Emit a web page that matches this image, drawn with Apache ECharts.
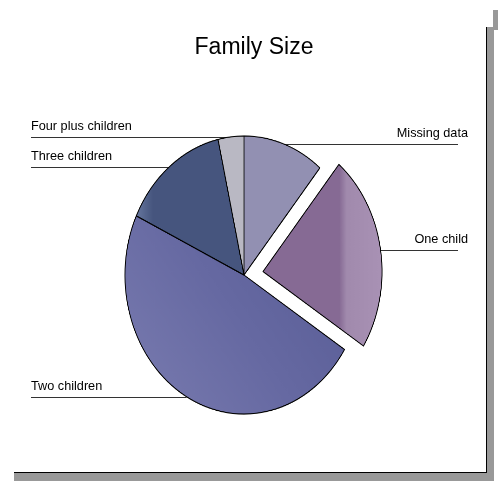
<!DOCTYPE html>
<html>
<head>
<meta charset="utf-8">
<script src="https://cdn.jsdelivr.net/npm/echarts@6/dist/echarts.min.js"></script>
<style>
  html, body { margin: 0; padding: 0; background: #fff; }
  #wrap { position: relative; width: 498px; height: 481px; }
  #chart, #pie { position: absolute; left: 0; top: 0; width: 498px; height: 481px; }
  /* 原图饼是竖向拉长的椭圆 */
  #pie { transform-origin: 244px 275px; transform: scale(0.93, 1.086); }
</style>
</head>
<body>
<div id="wrap">
  <div id="chart"></div>
  <div id="pie"></div>
</div>
<script>
// 家庭人数分布
var categories = ["Missing data", "One child", "Two children", "Three children", "Four plus children"];
var shares = [11, 23, 48, 14.5, 3.5];
var colors = ["#9290b2", "#866a94", "#6467a0", "#46557e", "#b9b8c3"];
var explodedIndex = 1;

var CX = 244, CY = 275, SX = 0.93, SY = 1.086;
var mainCenter = [244, 275];
var explodedCenter = [264.4, 271.8];

var myChart = echarts.init(document.getElementById('chart'));
var pieChart = echarts.init(document.getElementById('pie'), null, { devicePixelRatio: 2 });

function sliceColor(i) {
    if (i === 1) {
        return new echarts.graphic.LinearGradient(0, 0, 1, 0, [
            { offset: 0, color: "#866a94" },
            { offset: 0.64, color: "#866a94" },
            { offset: 0.7, color: "#a18aad" },
            { offset: 1, color: "#a992b5" }
        ]);
    }
    if (i === 2) {
        return new echarts.graphic.LinearGradient(0, 1, 1, 0, [
            { offset: 0, color: "#7a7cb0" },
            { offset: 0.5, color: "#6669a2" },
            { offset: 1, color: "#575b94" }
        ]);
    }
    if (i === 3) {
        return new echarts.graphic.LinearGradient(0, 0, 1, 0, [
            { offset: 0, color: "#6878a0" },
            { offset: 0.08, color: "#56668e" },
            { offset: 0.16, color: "#46557e" },
            { offset: 1, color: "#46557e" }
        ]);
    }
    return colors[i];
}

var clear = "rgba(0,0,0,0)";

// 扇区：主饼 + 爆出的扇区（单独系列，圆心偏移）
function sliceData(exploded, withLabel) {
    return categories.map(function (name, i) {
        var mine = (i === explodedIndex) === exploded;
        return {
            name: name,
            value: shares[i],
            itemStyle: (mine && !withLabel) ? { color: sliceColor(i) } : { color: clear, borderWidth: 0 },
            label: { show: mine && withLabel },
            labelLine: { show: mine && withLabel }
        };
    });
}

function layoutLabel(p) {
    var pts = p.labelLinePoints;
    if (!pts) return {};
    // 把圆上的起点换算到拉伸后的椭圆上
    var x0 = CX + (pts[0][0] - CX) * SX;
    var y0 = CY + (pts[0][1] - CY) * SY;
    var isLeft = x0 < CX;
    var y = Math.round(y0) + 0.5;
    return {
        x: isLeft ? 31 : 468,
        y: y - 11,
        align: isLeft ? "left" : "right",
        verticalAlign: "middle",
        labelLinePoints: [
            [x0, y],
            [x0, y],
            [isLeft ? 31 : 458, y]
        ]
    };
}

var pieBase = {
    type: "pie",
    radius: 128,
    startAngle: 90,
    clockwise: true,
    avoidLabelOverlap: false,
    silent: true,
    itemStyle: { borderColor: "#000", borderWidth: 1 },
    emphasis: { disabled: true },
    label: {
        formatter: "{b}",
        fontFamily: "Liberation Sans, Arial",
        fontSize: 12.7,
        color: "#000"
    },
    labelLine: {
        length: 0,
        length2: 10,
        lineStyle: { color: "#333", width: 1 }
    },
    labelLayout: layoutLabel
};

var option = {
    animation: false,
    backgroundColor: "#fff",
    title: {
        text: "Family Size",
        left: 249,
        top: 31,
        textAlign: "center",
        textStyle: {
            fontFamily: "Liberation Sans, Arial",
            fontWeight: "normal",
            fontSize: 23,
            color: "#000"
        }
    },
    graphic: [
        { type: "rect", z: -10, shape: { x: 14, y: 27, width: 480, height: 454 }, style: { fill: "#999" } },
        { type: "rect", z: -10, shape: { x: 493, y: 10, width: 5, height: 20 }, style: { fill: "#999" } },
        { type: "rect", z: -9, shape: { x: 0, y: 0, width: 486, height: 472 }, style: { fill: "#fff" } },
        { type: "line", z: -8, shape: { x1: 14, y1: 472.5, x2: 487, y2: 472.5 }, style: { stroke: "#000", lineWidth: 1 } },
        { type: "line", z: -8, shape: { x1: 486.5, y1: 27, x2: 486.5, y2: 473 }, style: { stroke: "#000", lineWidth: 1 } }
    ],
    // 只画标签和引线
    series: [
        Object.assign({}, pieBase, { name: "labels", center: mainCenter, data: sliceData(false, true) }),
        Object.assign({}, pieBase, { name: "labels exploded", center: explodedCenter, data: sliceData(true, true) })
    ]
};

var pieOption = {
    animation: false,
    series: [
        Object.assign({}, pieBase, { name: "Family Size", center: mainCenter, data: sliceData(false, false), labelLayout: null }),
        Object.assign({}, pieBase, { name: "Family Size exploded", center: explodedCenter, data: sliceData(true, false), labelLayout: null })
    ]
};

myChart.setOption(option);
pieChart.setOption(pieOption);
</script>
</body>
</html>
